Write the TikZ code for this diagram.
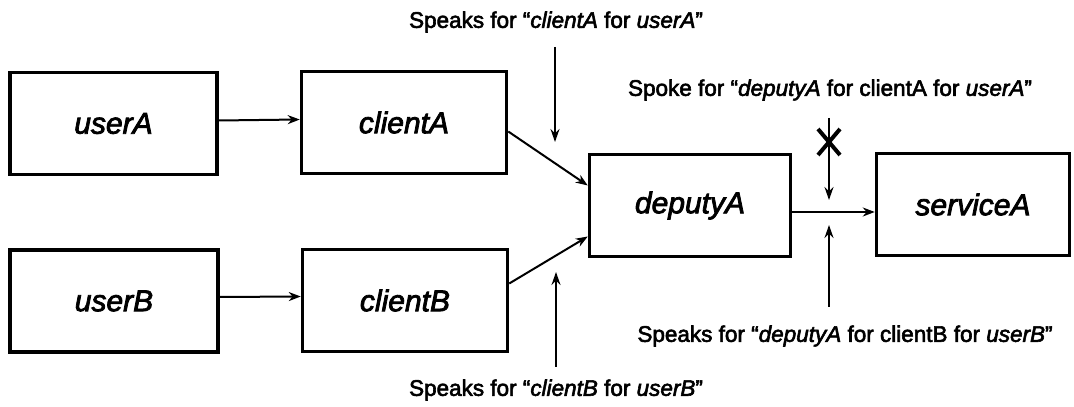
\documentclass[tikz,border=0pt]{standalone}
\usepackage{fontspec}
\setmainfont{Liberation Sans}[FakeBold=2.6]
\usetikzlibrary{arrows.meta}
\begin{document}
\begin{tikzpicture}[x=1pt,y=1pt,
  box/.style={draw, line width=3.5pt, minimum height=102pt, inner sep=0pt,
    font=\fontsize{30}{36}\selectfont\itshape},
  link/.style={line width=2pt, -{Stealth[length=12pt,width=9pt]}},
  note/.style={font=\fontsize{22.5}{27}\selectfont, inner sep=0pt},
  pointer/.style={line width=1.8pt, -{Stealth[length=13pt,width=9pt]}},
  cross/.style={line width=4pt},
]
\useasboundingbox (0,0) rectangle (1074,407);

% principals and services
\node[box, minimum width=207pt] (userA)    at (113.5,283.5) {userA};
\node[box, minimum width=205pt] (clientA)  at (404,284.5)   {clientA};
\node[box, minimum width=208pt] (userB)    at (114,106)     {userB};
\node[box, minimum width=205pt] (clientB)  at (405,106.5)   {clientB};
\node[box, minimum width=201pt] (deputyA)  at (690,201.5)   {deputyA};
\node[box, minimum width=193pt] (serviceA) at (973,202.5)   {serviceA};

% delegation chain
\draw[link] ([yshift=3pt]userA.east) -- ([yshift=3pt]clientA.west);
\draw[link] ([yshift=4pt]userB.east) -- ([yshift=4pt]clientB.west);
\draw[link] ([yshift=-9pt]clientA.east) -- ([yshift=20pt]deputyA.west);
\draw[link] ([yshift=17pt]clientB.east) -- ([yshift=-31pt]deputyA.west);
\draw[link] ([yshift=-6.5pt]deputyA.east) -- ([yshift=-7.5pt]serviceA.west);

% statements
\node[note] (labA)  at (556,385) {Speaks for “\textit{clientA} for \textit{userA}”};
\node[note] (labB)  at (556,17)  {Speaks for “\textit{clientB} for \textit{userB}”};
\node[note] (labDA) at (830,317) {Spoke for “\textit{deputyA} for clientA for \textit{userA}”};
\node[note] (labDB) at (845,71)  {Speaks for “\textit{deputyA} for clientB for \textit{userB}”};

\coordinate (tipA)  at (555,265);
\coordinate (tipB)  at (556,135);
\coordinate (tipDA) at (829,207);
\coordinate (tipDB) at (829,182);
\coordinate (noDA)  at (829,265);

\draw[pointer] (tipA |- 0,360) -- (tipA);
\draw[pointer] (tipB |- 0,40)  -- (tipB);
\draw[pointer] (tipDA |- 0,289) -- (tipDA);
\draw[pointer] (tipDB |- 0,100) -- (tipDB);

% rejected statement
\draw[cross] ([shift={(-11pt,-13pt)}]noDA) -- ([shift={(11pt,13pt)}]noDA)
             ([shift={(-11pt,13pt)}]noDA) -- ([shift={(11pt,-13pt)}]noDA);
\end{tikzpicture}
\end{document}
